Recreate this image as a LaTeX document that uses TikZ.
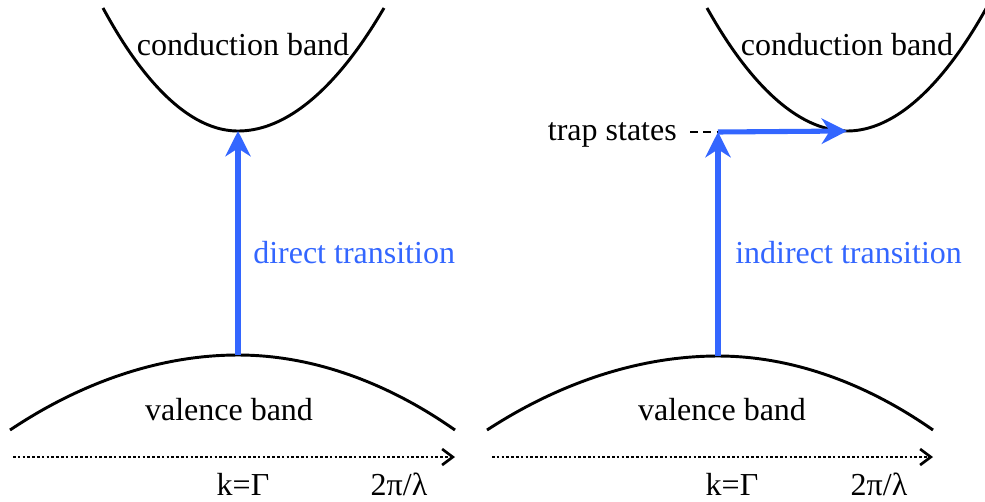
\documentclass[tikz,border=0pt]{standalone}
\usepackage{fontspec}
\setmainfont{LiberationSerif}[Extension=.ttf, UprightFont=*-Regular]
\usepackage{xcolor}
\usetikzlibrary{arrows.meta}
\definecolor{transblue}{RGB}{51,102,255}
\tikzset{
  band/.style={line width=2.2pt, black},
  lbl/.style={font=\fontsize{24}{28}\selectfont, anchor=base, inner sep=0pt},
  translbl/.style={lbl, text=transblue, anchor=base west},
  trans/.style={-{Stealth[length=19pt, width=19pt, inset=6pt]}, line width=3.8pt, transblue},
  kaxis/.style={line width=2pt, dash pattern=on 2pt off 1.6pt,
                -{Straight Barb[length=8pt, width=12pt, line width=2pt]}},
  trap/.style={line width=1.5pt, dash pattern=on 6pt off 4pt},
}

\begin{document}
\begin{tikzpicture}[x=0.75pt, y=-0.75pt]
  \useasboundingbox (0,0) rectangle (985,501);
  % left panel: direct
  \coordinate (cbL) at (238,131);
  \coordinate (vbL) at (238,355);
  \draw[band] (103,8) parabola bend (cbL) (384,8);
  \draw[band] (10,430) parabola bend (vbL) (455,430);
  \node[lbl] (cbtxtL) at (243,55) {conduction band};
  \node[lbl] (vbtxtL) at (229,420) {valence band};
  \draw[trans] (vbL) -- (cbL);
  \node[translbl] (dir) at (253,263) {direct transition};
  \coordinate (axL0) at (13,457);
  \coordinate (axL1) at (455,457);
  \draw[kaxis] (axL0) -- (axL1);
  \node[lbl] (gamL) at (243,495) {k=Γ};
  \node[lbl] (kmaxL) at (399,495) {2π/λ};
  % right panel: indirect via trap
  \coordinate (cbR) at (847,131);
  \coordinate (vbR) at (718,356);
  \coordinate (trapR) at (718,132);
  \draw[band] (707,8) parabola bend (cbR) (993,-4);
  \draw[band] (487,430) parabola bend (vbR) (933,430);
  \node[lbl] (cbtxtR) at (847,55) {conduction band};
  \node[lbl] (vbtxtR) at (722,420) {valence band};
  \node[lbl, anchor=base east] (traptxt) at (677,140) {trap states};
  \draw[trap] (690,132) -- (trapR);
  \draw[trans] (vbR) -- (trapR);
  \draw[trans] (trapR) -- (cbR);
  \node[translbl] (indir) at (735,263) {indirect transition};
  \coordinate (axR0) at (492,457);
  \coordinate (axR1) at (933,457);
  \draw[kaxis] (axR0) -- (axR1);
  \node[lbl] (gamR) at (732,495) {k=Γ};
  \node[lbl] (kmaxR) at (879,495) {2π/λ};
\end{tikzpicture}
\end{document}
